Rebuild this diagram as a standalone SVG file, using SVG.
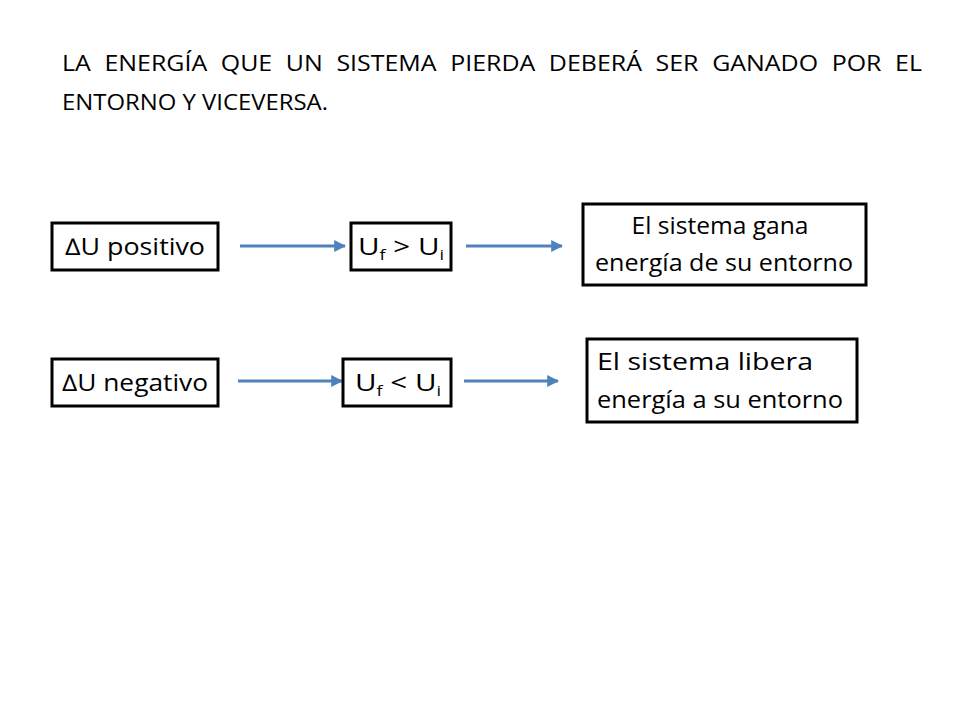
<svg xmlns="http://www.w3.org/2000/svg" width="960" height="720" viewBox="0 0 960 720">
<style>
text{font-family:"Open Sans","Liberation Sans",sans-serif;fill:#000}
.t{font-size:21px}
.n{font-size:23px;text-anchor:middle}
.s{font-size:14px}
rect{fill:#fff;stroke:#000;stroke-width:3}
.c line{stroke:#4f81bd;stroke-width:3;marker-end:url(#a)}
</style>
<defs><marker id="a" viewBox="0 0 10 10" refX="9" refY="5" markerWidth="4" markerHeight="4" orient="auto" markerUnits="strokeWidth"><path d="M0,0L10,5L0,10z" fill="#4f81bd"/></marker></defs>
<rect width="960" height="720" style="stroke:none"/>
<text class="t" x="62" y="71" textLength="860" lengthAdjust="spacingAndGlyphs" word-spacing="6">LA ENERGÍA QUE UN SISTEMA PIERDA DEBERÁ SER GANADO POR EL</text>
<text class="t" x="62" y="110" textLength="266" lengthAdjust="spacingAndGlyphs">ENTORNO Y VICEVERSA.</text>
<g class="c">
<line x1="240" y1="246" x2="345" y2="246"/>
<line x1="466" y1="246" x2="562" y2="246"/>
<line x1="238" y1="381" x2="342" y2="381"/>
<line x1="464" y1="381" x2="558" y2="381"/>
</g>
<g id="n1"><rect x="52" y="223" width="166" height="47"/><text class="n" x="135" y="255" textLength="140" lengthAdjust="spacingAndGlyphs">∆U positivo</text></g>
<g id="n2"><rect x="351" y="223" width="100" height="47"/><text x="358" y="255" font-size="23" textLength="86" lengthAdjust="spacingAndGlyphs">U<tspan class="s" dy="5">f</tspan><tspan dy="-5"> &gt;  U</tspan><tspan class="s" dy="5">i</tspan></text></g>
<g id="n3"><rect x="583" y="204" width="283" height="81"/><text class="n" x="720" y="234" textLength="177" lengthAdjust="spacingAndGlyphs">El sistema gana</text><text class="n" x="724" y="271" textLength="258" lengthAdjust="spacingAndGlyphs">energía de su entorno</text></g>
<g id="n4"><rect x="52" y="359" width="166" height="47"/><text class="n" x="135" y="391" textLength="146" lengthAdjust="spacingAndGlyphs">∆U negativo</text></g>
<g id="n5"><rect x="343" y="359" width="108" height="47"/><text x="355" y="391" font-size="23" textLength="86" lengthAdjust="spacingAndGlyphs">U<tspan class="s" dy="5">f</tspan><tspan dy="-5"> &lt;  U</tspan><tspan class="s" dy="5">i</tspan></text></g>
<g id="n6"><rect x="587" y="339" width="270" height="83"/><text class="n" x="705" y="370" textLength="216" lengthAdjust="spacingAndGlyphs">El sistema libera</text><text class="n" x="720" y="408" textLength="246" lengthAdjust="spacingAndGlyphs">energía a su entorno</text></g>
</svg>
